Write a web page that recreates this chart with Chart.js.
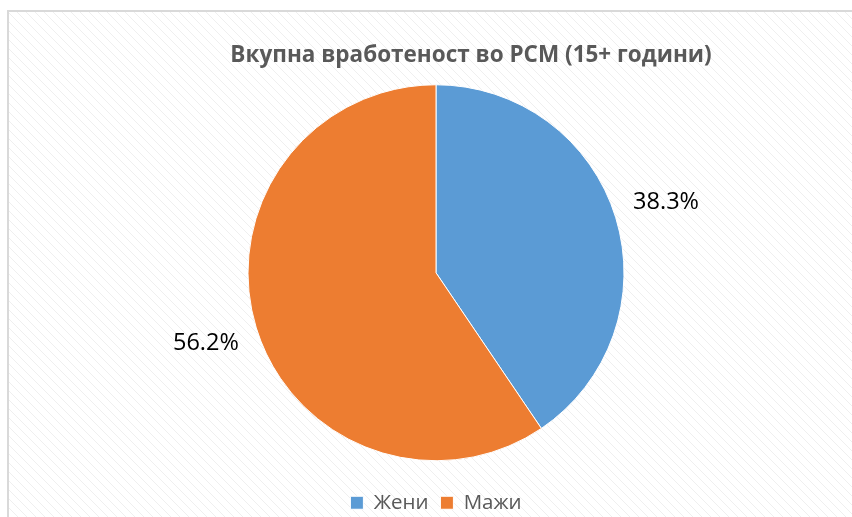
<!DOCTYPE html>
<html>
<head>
<meta charset="utf-8">
<script src="https://cdn.jsdelivr.net/npm/chart.js@4/dist/chart.umd.min.js"></script>
<style>
  html, body { margin: 0; padding: 0; background: #fff; }
  #wrap { width: 852px; height: 517px; position: relative; }
</style>
</head>
<body>
<div id="wrap"><canvas id="pieChart"></canvas></div>
<script>
// Chart data
const chartTitle = 'Вкупна вработеност во РСМ (15+ години)';
const categories = ['Жени', 'Мажи'];
const shareValues = [38.3, 56.2];
const sliceColors = ['#5B9BD5', '#ED7D31'];

// Background: light diagonal hatch + frame, like the Excel chart area
const hatchBackground = {
    id: 'hatchBackground',
    beforeDraw(chart) {
        const c = chart.ctx;
        const w = chart.width, h = chart.height;
        c.save();
        c.fillStyle = '#fff';
        c.fillRect(0, 0, w, h);
        c.beginPath();
        c.rect(8, 11, w, h);
        c.clip();
        c.strokeStyle = '#efefef';
        c.lineWidth = 1;
        for (let x = -h; x < w + h; x += 9) {
            c.beginPath();
            c.moveTo(x, 0);
            c.lineTo(x + h, h);
            c.stroke();
        }
        c.restore();
        c.save();
        c.strokeStyle = '#d9d9d9';
        c.lineWidth = 2;
        c.beginPath();
        c.moveTo(8, h);
        c.lineTo(8, 11);
        c.lineTo(w, 11);
        c.stroke();
        c.restore();
    }
};

// Title drawn a bit right of the pie centre, as in the original
const offsetTitle = {
    id: 'offsetTitle',
    afterDraw(chart) {
        const c = chart.ctx;
        c.save();
        c.font = 'bold 22.5px "Open Sans", sans-serif';
        c.fillStyle = '#595959';
        c.textAlign = 'center';
        c.textBaseline = 'middle';
        c.fillText(chartTitle, 471, 56);
        c.restore();
    }
};

// Percentage labels outside each slice
const outsideLabels = {
    id: 'outsideLabels',
    afterDatasetsDraw(chart) {
        const c = chart.ctx;
        const meta = chart.getDatasetMeta(0);
        c.save();
        c.font = '23.5px "Open Sans", sans-serif';
        c.fillStyle = '#000';
        c.textAlign = 'center';
        c.textBaseline = 'middle';
        meta.data.forEach((arc, i) => {
            const mid = (arc.startAngle + arc.endAngle) / 2;
            const r = arc.outerRadius * 1.28;
            const x = arc.x + Math.cos(mid) * r;
            const y = arc.y + Math.sin(mid) * r;
            c.fillText(shareValues[i].toFixed(1) + '%', x, y);
        });
        c.restore();
    }
};

const ctx = document.getElementById('pieChart').getContext('2d');
new Chart(ctx, {
    type: 'pie',
    data: {
        labels: categories,
        datasets: [{
            data: shareValues,
            backgroundColor: sliceColors,
            borderColor: '#ffffff',
            borderWidth: 1,
            radius: 188
        }]
    },
    options: {
        responsive: true,
        maintainAspectRatio: false,
        animation: false,
        layout: { padding: { top: 65, left: 20, right: 0, bottom: -6 } },
        plugins: {
            title: { display: false },
            tooltip: { enabled: false },
            legend: {
                position: 'bottom',
                labels: {
                    color: '#595959',
                    font: { size: 20.5, family: '"Open Sans", sans-serif' },
                    boxWidth: 13,
                    boxHeight: 13,
                    padding: 12
                }
            }
        }
    },
    plugins: [hatchBackground, offsetTitle, outsideLabels]
});
</script>
</body>
</html>
